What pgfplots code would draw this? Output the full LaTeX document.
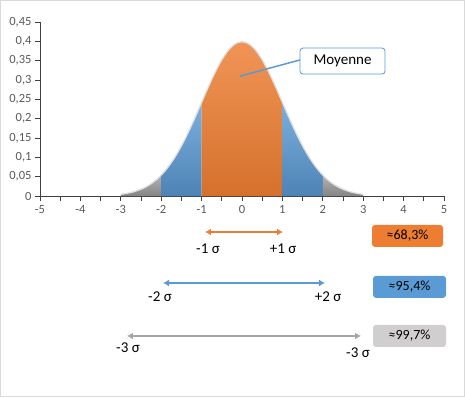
\documentclass[border=0pt]{standalone}
\usepackage{pgfplots}
\pgfplotsset{compat=1.18}
\usepackage{fontspec}
\setmainfont{Carlito}
\usetikzlibrary{arrows.meta}
\definecolor{myorange}{HTML}{ED7D31}
\definecolor{myblue}{HTML}{5B9BD5}
\definecolor{mygray}{HTML}{A5A5A5}
\definecolor{boxgray}{HTML}{D0CECE}
\definecolor{ticklab}{HTML}{595959}
\definecolor{axline}{HTML}{404040}
\begin{document}
\begin{tikzpicture}
\path[use as bounding box] (-40pt,-201pt) rectangle (425pt,196pt);
\draw[color=black!15, line width=1pt] (-39.5pt,-200.5pt) rectangle (424.5pt,195.5pt);
\begin{axis}[
  at={(0pt,0pt)}, anchor=south west,
  scale only axis, width=404pt, height=174pt,
  xmin=-5, xmax=5, ymin=0, ymax=0.45,
  clip=false,
  axis x line*=bottom, axis y line*=left,
  axis line style={color=axline, line width=0.9pt},
  tick align=outside,
  major tick length=5pt, minor tick length=5pt,
  every tick/.style={color=axline, line width=0.9pt},
  xtick={-5,-4,-3,-2,-1,0,1,2,3,4,5},
  minor xtick={-4.5,-3.5,-2.5,-1.5,-0.5,0.5,1.5,2.5,3.5,4.5},
  ytick={0,0.05,0.1,0.15,0.2,0.25,0.3,0.35,0.4,0.45},
  ytick style={color=axline},
  tick label style={font=\fontsize{12.5}{14}\selectfont, color=ticklab},
  /pgf/number format/assume math mode=true,
  /pgf/number format/use comma,
  yticklabel style={/pgf/number format/fixed, /pgf/number format/precision=2},
  xticklabel style={yshift=-1pt},
]
% gray left
\addplot[draw=none, top color=black!30, bottom color=black!48] coordinates {
(-3,0.0044) (-2.9,0.0060) (-2.8,0.0079) (-2.7,0.0104) (-2.6,0.0136) (-2.5,0.0175) (-2.4,0.0224) (-2.3,0.0283) (-2.2,0.0355) (-2.1,0.0440) (-2,0.0540)
} \closedcycle;
% blue left
\addplot[draw=none, top color=myblue!80!white, bottom color=myblue!85!black] coordinates {
(-2,0.0540) (-1.9,0.0656) (-1.8,0.0790) (-1.7,0.0940) (-1.6,0.1109) (-1.5,0.1295) (-1.4,0.1497) (-1.3,0.1714) (-1.2,0.1942) (-1.1,0.2179) (-1,0.2420)
} \closedcycle;
% orange
\addplot[draw=none, top color=myorange!82!white, bottom color=myorange!90!black] coordinates {
(-1,0.2420) (-0.9,0.2661) (-0.8,0.2897) (-0.7,0.3123) (-0.6,0.3332) (-0.5,0.3521) (-0.4,0.3683) (-0.3,0.3814) (-0.2,0.3910) (-0.1,0.3970) (0,0.3989)
(0.1,0.3970) (0.2,0.3910) (0.3,0.3814) (0.4,0.3683) (0.5,0.3521) (0.6,0.3332) (0.7,0.3123) (0.8,0.2897) (0.9,0.2661) (1,0.2420)
} \closedcycle;
% blue right
\addplot[draw=none, top color=myblue!80!white, bottom color=myblue!85!black] coordinates {
(1,0.2420) (1.1,0.2179) (1.2,0.1942) (1.3,0.1714) (1.4,0.1497) (1.5,0.1295) (1.6,0.1109) (1.7,0.0940) (1.8,0.0790) (1.9,0.0656) (2,0.0540)
} \closedcycle;
% gray right
\addplot[draw=none, top color=black!30, bottom color=black!48] coordinates {
(2,0.0540) (2.1,0.0440) (2.2,0.0355) (2.3,0.0283) (2.4,0.0224) (2.5,0.0175) (2.6,0.0136) (2.7,0.0104) (2.8,0.0079) (2.9,0.0060) (3,0.0044)
} \closedcycle;
% outline
\addplot[color=black!12, line width=1.3pt, smooth] coordinates {
(-3,0.0044) (-2.9,0.0060) (-2.8,0.0079) (-2.7,0.0104) (-2.6,0.0136) (-2.5,0.0175) (-2.4,0.0224) (-2.3,0.0283) (-2.2,0.0355) (-2.1,0.0440) (-2,0.0540)
(-1.9,0.0656) (-1.8,0.0790) (-1.7,0.0940) (-1.6,0.1109) (-1.5,0.1295) (-1.4,0.1497) (-1.3,0.1714) (-1.2,0.1942) (-1.1,0.2179) (-1,0.2420)
(-0.9,0.2661) (-0.8,0.2897) (-0.7,0.3123) (-0.6,0.3332) (-0.5,0.3521) (-0.4,0.3683) (-0.3,0.3814) (-0.2,0.3910) (-0.1,0.3970) (0,0.3989)
(0.1,0.3970) (0.2,0.3910) (0.3,0.3814) (0.4,0.3683) (0.5,0.3521) (0.6,0.3332) (0.7,0.3123) (0.8,0.2897) (0.9,0.2661) (1,0.2420)
(1.1,0.2179) (1.2,0.1942) (1.3,0.1714) (1.4,0.1497) (1.5,0.1295) (1.6,0.1109) (1.7,0.0940) (1.8,0.0790) (1.9,0.0656) (2,0.0540)
(2.1,0.0440) (2.2,0.0355) (2.3,0.0283) (2.4,0.0224) (2.5,0.0175) (2.6,0.0136) (2.7,0.0104) (2.8,0.0079) (2.9,0.0060) (3,0.0044)
};
% callout
\draw[myblue, line width=1.5pt] (axis cs:-0.05,0.310) -- (axis cs:1.44,0.352);
\node[draw=myblue, line width=0.8pt, fill=white, rounded corners=3pt, minimum width=85pt, minimum height=26pt, inner sep=0pt, font=\fontsize{15}{17}\selectfont]
  at (axis cs:2.488,0.349) {Moyenne};
% arrows
\draw[myorange, line width=1.5pt, {Latex[length=6pt,width=7pt]}-{Latex[length=6pt,width=7pt]}] (axis cs:-0.916,-0.0931) -- (axis cs:1.015,-0.0931);
\draw[myblue, line width=1.5pt, {Latex[length=6pt,width=7pt]}-{Latex[length=6pt,width=7pt]}] (axis cs:-1.955,-0.225) -- (axis cs:2.054,-0.225);
\draw[mygray, line width=1.5pt, {Latex[length=6pt,width=7pt]}-{Latex[length=6pt,width=7pt]}] (axis cs:-2.847,-0.362) -- (axis cs:2.946,-0.362);
\tikzset{siglab/.style={font=\fontsize{15}{17}\selectfont, inner sep=0pt}}
\node[siglab] at (axis cs:-0.842,-0.137) {-1 σ};
\node[siglab] at (axis cs:1.015,-0.137) {+1 σ};
\node[siglab] at (axis cs:-2.030,-0.261) {-2 σ};
\node[siglab] at (axis cs:2.129,-0.261) {+2 σ};
\node[siglab] at (axis cs:-2.822,-0.391) {-3 σ};
\node[siglab] at (axis cs:2.871,-0.406) {-3 σ};
% boxes
\tikzset{pbox/.style={rounded corners=3pt, minimum height=22pt, inner sep=0pt, font=\fontsize{14}{16}\selectfont}}
\node[pbox, fill=myorange, minimum width=71pt] at (axis cs:4.097,-0.1034) {≈68,3\%};
\node[pbox, fill=myblue, minimum width=73pt] at (axis cs:4.146,-0.235) {≈95,4\%};
\node[pbox, fill=boxgray, minimum width=73pt] at (axis cs:4.146,-0.362) {≈99,7\%};
\end{axis}
\end{tikzpicture}
\end{document}
